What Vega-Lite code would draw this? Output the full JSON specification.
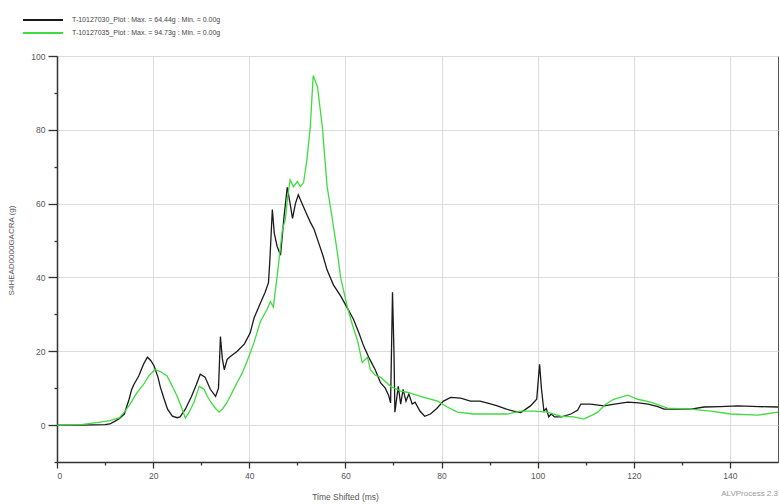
{
  "$schema": "https://vega.github.io/schema/vega-lite/v6.json",
  "width": 721,
  "height": 406,
  "autosize": {"type": "none"},
  "padding": {"left": 57, "top": 56, "right": 2, "bottom": 42},
  "background": "white",
  "config": {
    "font": "Liberation Sans",
    "view": {"stroke": "#555", "strokeWidth": 1}
  },
  "title": {"text": "ALVProcess 2.3", "orient": "bottom", "anchor": "end", "fontSize": 8, "fontWeight": "normal", "color": "#999", "offset": -11},
  "datasets": {
    "black": [
      {"t":0,"v":0},{"t":5,"v":0},{"t":10,"v":0.1},{"t":11,"v":0.3},{"t":12,"v":1},{"t":13,"v":1.8},{"t":14,"v":3},{"t":15,"v":7},{"t":15.5,"v":9.5},{"t":16,"v":11},{"t":17,"v":13.3},{"t":18,"v":16.5},{"t":18.8,"v":18.4},{"t":19.5,"v":17.5},{"t":20.2,"v":16},{"t":21,"v":13},{"t":21.5,"v":10.3},{"t":22.3,"v":7},{"t":23,"v":4.3},{"t":24,"v":2.4},{"t":25,"v":2},{"t":25.6,"v":2.2},{"t":26.7,"v":4.3},{"t":28,"v":7.8},{"t":29,"v":11},{"t":29.8,"v":13.8},{"t":30.8,"v":13},{"t":31.9,"v":9.7},{"t":33,"v":7.8},{"t":33.6,"v":10},{"t":34,"v":24},{"t":34.4,"v":18},{"t":34.8,"v":15},{"t":35.4,"v":17.8},{"t":36,"v":18.5},{"t":37.5,"v":20},{"t":39,"v":22},{"t":40.2,"v":25},{"t":41,"v":29},{"t":42.3,"v":33},{"t":43.3,"v":36},{"t":44,"v":38.6},{"t":44.3,"v":45},{"t":44.8,"v":58.4},{"t":45.2,"v":52},{"t":45.8,"v":48.4},{"t":46.5,"v":46},{"t":47.2,"v":56},{"t":47.9,"v":64.44},{"t":48.5,"v":60},{"t":49,"v":56},{"t":49.6,"v":60},{"t":50.2,"v":62.4},{"t":51,"v":60},{"t":52,"v":57},{"t":52.7,"v":55},{"t":53.5,"v":53},{"t":54.4,"v":49.5},{"t":55.3,"v":46},{"t":56.2,"v":42},{"t":57.5,"v":38},{"t":59,"v":35},{"t":60.5,"v":31.5},{"t":61.7,"v":28.6},{"t":62.8,"v":25},{"t":63.8,"v":21.4},{"t":65,"v":18},{"t":66.2,"v":15},{"t":67.3,"v":11.5},{"t":68.3,"v":10},{"t":69,"v":8},{"t":69.4,"v":6},{"t":69.8,"v":36},{"t":70.1,"v":20},{"t":70.3,"v":3.5},{"t":71,"v":10.5},{"t":71.5,"v":5.7},{"t":72,"v":9.7},{"t":72.6,"v":6.5},{"t":73.2,"v":8.4},{"t":73.9,"v":5.7},{"t":74.5,"v":6.2},{"t":75.5,"v":3.8},{"t":76.5,"v":2.4},{"t":77.7,"v":3},{"t":79,"v":4.5},{"t":80.4,"v":6.5},{"t":81.9,"v":7.5},{"t":84,"v":7.3},{"t":86,"v":6.5},{"t":88,"v":6.5},{"t":90,"v":5.8},{"t":91.6,"v":5.2},{"t":93.5,"v":4.3},{"t":95,"v":3.8},{"t":96.5,"v":3.4},{"t":98.5,"v":5.2},{"t":99.8,"v":7},{"t":100.4,"v":16.5},{"t":100.8,"v":9.7},{"t":101.3,"v":3.8},{"t":101.8,"v":4.5},{"t":102.3,"v":2.2},{"t":102.8,"v":3},{"t":103.5,"v":2.2},{"t":105,"v":2.2},{"t":106.9,"v":3},{"t":108.3,"v":4},{"t":109,"v":5.7},{"t":111,"v":5.7},{"t":113.8,"v":5.2},{"t":116,"v":5.7},{"t":118.8,"v":6.2},{"t":121,"v":6},{"t":123,"v":5.7},{"t":125,"v":5},{"t":126.3,"v":4.3},{"t":129,"v":4.3},{"t":131.9,"v":4.3},{"t":134.6,"v":4.9},{"t":138,"v":5},{"t":141.7,"v":5.2},{"t":146,"v":5},{"t":150,"v":4.9}
    ],
    "green": [
      {"t":0,"v":0},{"t":5,"v":0.1},{"t":9,"v":0.8},{"t":11,"v":1.2},{"t":13,"v":2},{"t":14,"v":3.5},{"t":15.2,"v":5.7},{"t":16.5,"v":8.5},{"t":18,"v":11},{"t":19.2,"v":13.5},{"t":20.4,"v":15},{"t":21.5,"v":14.5},{"t":22.9,"v":13.3},{"t":24,"v":10.5},{"t":25,"v":7.8},{"t":26,"v":4.5},{"t":26.7,"v":1.9},{"t":27.5,"v":3.5},{"t":28.5,"v":6.2},{"t":29.6,"v":10.5},{"t":30.6,"v":9.7},{"t":31.2,"v":8},{"t":32,"v":6.2},{"t":33,"v":4.5},{"t":33.7,"v":3.5},{"t":34.5,"v":4.5},{"t":35.4,"v":6.2},{"t":36.5,"v":9},{"t":37.5,"v":11.6},{"t":38.5,"v":14},{"t":39.6,"v":17.5},{"t":41,"v":22.4},{"t":42.3,"v":28},{"t":43.7,"v":31.4},{"t":44.4,"v":33.5},{"t":45,"v":32},{"t":45.8,"v":40.3},{"t":46.9,"v":53},{"t":47.5,"v":55.7},{"t":48,"v":62},{"t":48.5,"v":66.5},{"t":49.2,"v":64.6},{"t":50,"v":66},{"t":50.6,"v":64.6},{"t":51.3,"v":65.7},{"t":52,"v":72},{"t":52.7,"v":80.8},{"t":53.3,"v":94.73},{"t":54.2,"v":91.6},{"t":55.2,"v":80.8},{"t":56.2,"v":64.6},{"t":57.3,"v":55.7},{"t":58.3,"v":47},{"t":59,"v":40},{"t":60.4,"v":32},{"t":61.5,"v":27},{"t":62.5,"v":23},{"t":63.5,"v":17},{"t":64.6,"v":18.4},{"t":65.2,"v":15},{"t":66.2,"v":13.5},{"t":67.3,"v":13},{"t":69.4,"v":10.5},{"t":71.5,"v":9.2},{"t":72.9,"v":8.9},{"t":75.6,"v":7.8},{"t":79.2,"v":6.5},{"t":81.2,"v":4.9},{"t":83.3,"v":3.5},{"t":86.7,"v":3},{"t":90.2,"v":3},{"t":93.7,"v":3},{"t":96.5,"v":3.8},{"t":99.2,"v":3.8},{"t":102,"v":3.5},{"t":104.8,"v":2.4},{"t":107.5,"v":2.2},{"t":109.6,"v":1.6},{"t":111,"v":2.5},{"t":112.5,"v":3.5},{"t":114,"v":5.5},{"t":115.8,"v":7},{"t":118.8,"v":8.1},{"t":120.8,"v":7},{"t":123.5,"v":6.2},{"t":127,"v":4.6},{"t":131.9,"v":4.3},{"t":136,"v":3.8},{"t":140.2,"v":3},{"t":145.8,"v":2.7},{"t":150,"v":3.5}
    ]
  },
  "layer": [
    {
      "data": {"name": "black"},
      "transform": [{"calculate": "'T-10127030_Plot : Max. = 64.44g : Min. = 0.00g'", "as": "series"}],
      "mark": {"type": "line", "strokeWidth": 1.3, "clip": true},
      "encoding": {
        "x": {"field": "t", "type": "quantitative"},
        "y": {"field": "v", "type": "quantitative"},
        "color": {"field": "series", "type": "nominal"}
      }
    },
    {
      "data": {"name": "green"},
      "transform": [{"calculate": "'T-10127035_Plot : Max. = 94.73g : Min. = 0.00g'", "as": "series"}],
      "mark": {"type": "line", "strokeWidth": 1.3, "clip": true},
      "encoding": {
        "x": {"field": "t", "type": "quantitative"},
        "y": {"field": "v", "type": "quantitative"},
        "color": {"field": "series", "type": "nominal"}
      }
    }
  ],
  "encoding": {
    "x": {
      "field": "t", "type": "quantitative",
      "scale": {"domain": [0, 150], "nice": false, "zero": false},
      "axis": {
        "title": "Time Shifted (ms)", "titleFontSize": 8.5, "titleFontWeight": "normal", "titleColor": "#555",
        "titleX": 288, "titleY": 30, "titleAlign": "center",
        "values": [0,10,20,30,40,50,60,70,80,90,100,110,120,130,140],
        "labelExpr": "datum.value % 20 === 0 ? datum.label : ''",
        "labelFontSize": 8.5, "labelColor": "#555", "labelPadding": 3,
        "domainColor": "#333", "domainWidth": 1.5,
        "tickColor": "#333", "tickWidth": 1.3,
        "tickSize": {"condition": {"test": "datum.value % 20 === 0", "value": 6}, "value": 3},
        "grid": true, "gridColor": "#dcdcdc",
        "gridOpacity": {"condition": {"test": "datum.value % 20 === 0", "value": 1}, "value": 0}
      }
    },
    "y": {
      "field": "v", "type": "quantitative",
      "scale": {"domain": [-10, 100], "nice": false, "zero": false},
      "axis": {
        "title": "S4HEAD0000GACRA (g)", "titleFontSize": 8, "titleFontWeight": "normal", "titleColor": "#555",
        "titleX": -42, "titleY": 194,
        "values": [-10,0,10,20,30,40,50,60,70,80,90,100],
        "labelExpr": "datum.value % 20 === 0 ? datum.label : ''",
        "labelFontSize": 8.5, "labelColor": "#555", "labelPadding": 3,
        "domainColor": "#333", "domainWidth": 1.5,
        "tickColor": "#333", "tickWidth": 1.3,
        "tickSize": {"condition": {"test": "datum.value % 20 === 0", "value": 9}, "value": 3},
        "grid": true, "gridColor": "#dcdcdc",
        "gridOpacity": {"condition": {"test": "datum.value % 20 === 0", "value": 1}, "value": 0}
      }
    },
    "color": {
      "field": "series", "type": "nominal",
      "scale": {"domain": ["T-10127030_Plot : Max. = 64.44g : Min. = 0.00g", "T-10127035_Plot : Max. = 94.73g : Min. = 0.00g"], "range": ["#1a1a1a", "#3fdc3f"]},
      "legend": {
        "title": null, "orient": "none", "legendX": -19, "legendY": -41, "padding": 0,
        "symbolType": "M-5,0L5,0", "symbolSize": 64, "symbolStrokeWidth": 2, "symbolFillColor": "transparent",
        "labelOffset": 24,
        "labelFontSize": 7, "labelColor": "#444", "labelLimit": 400, "rowPadding": 4
      }
    }
  }
}
